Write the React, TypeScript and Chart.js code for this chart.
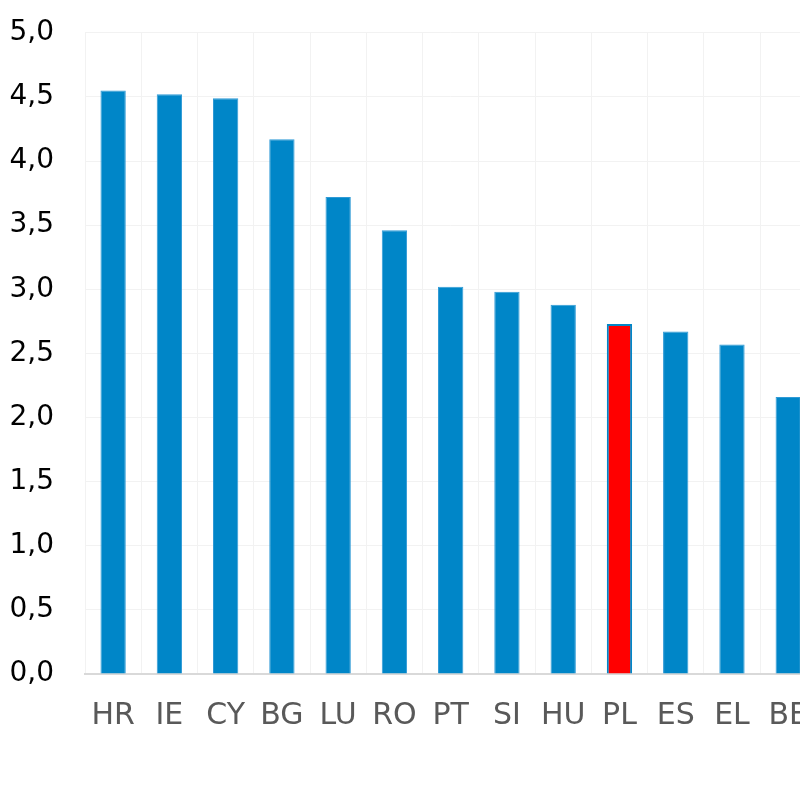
import React, { useEffect, useRef } from "react";
import { Chart, registerables } from "chart.js";

Chart.register(...registerables);

const categories = ["HR", "IE", "CY", "BG", "LU", "RO", "PT", "SI", "HU", "PL", "ES", "EL", "BE"];
const values = [4.55, 4.52, 4.49, 4.17, 3.72, 3.46, 3.02, 2.98, 2.88, 2.73, 2.67, 2.57, 2.16];
const highlighted = "PL";
const yTicks = [0, 0.5, 1, 1.5, 2, 2.5, 3, 3.5, 4, 4.5, 5];

export default function App() {
  const ref = useRef<HTMLCanvasElement>(null);
  useEffect(() => {
    if (!ref.current) return;
    const blue = "#0086c8";
    const chart = new Chart(ref.current, {
      type: "bar",
      data: {
        labels: categories,
        datasets: [
          {
            data: values,
            backgroundColor: categories.map((c) => (c === highlighted ? "#ff0000" : blue)),
            borderColor: categories.map((c) => (c === highlighted ? blue : "#2f9ad6")),
            borderWidth: categories.map((c) => (c === highlighted ? 2 : 1)),
            barPercentage: 0.45,
            categoryPercentage: 1,
          },
        ],
      },
      options: {
        animation: false,
        responsive: false,
        maintainAspectRatio: false,
        layout: { padding: { left: 7, top: 0, right: 0, bottom: 27 } },
        plugins: { legend: { display: false }, tooltip: { enabled: false } },
        scales: {
          x: {
            grid: { color: "#f2f2f2", drawTicks: false, lineWidth: 1 },
            border: { color: "#d9d9d9", width: 2 },
            ticks: {
              color: "#595959",
              font: { family: "DejaVu Sans", size: 30 },
              padding: 24,
              maxRotation: 0,
              autoSkip: false,
            },
          },
          y: {
            min: 0,
            max: 5,
            afterBuildTicks: (axis: any) => {
              axis.ticks = yTicks.map((v) => ({ value: v }));
            },
            afterFit: (axis: any) => {
              axis.width = 78;
            },
            grid: { color: "#f2f2f2", drawTicks: false, lineWidth: 1 },
            border: { display: false },
            ticks: {
              color: "#000000",
              font: { family: "DejaVu Sans", size: 28 },
              padding: 31,
              callback: (v: any) => Number(v).toFixed(1).replace(".", ","),
            },
          },
        },
      },
    });
    return () => chart.destroy();
  }, []);
  return (
    <div style={{ position: "fixed", left: 0, top: 0, width: 800, height: 800, overflow: "hidden", background: "#fff" }}>
      <div style={{ position: "absolute", left: 0, top: -15, width: 832, height: 800 }}>
        <canvas ref={ref} width={832} height={800} style={{ display: "block", width: 832, height: 800 }} />
      </div>
    </div>
  );
}
